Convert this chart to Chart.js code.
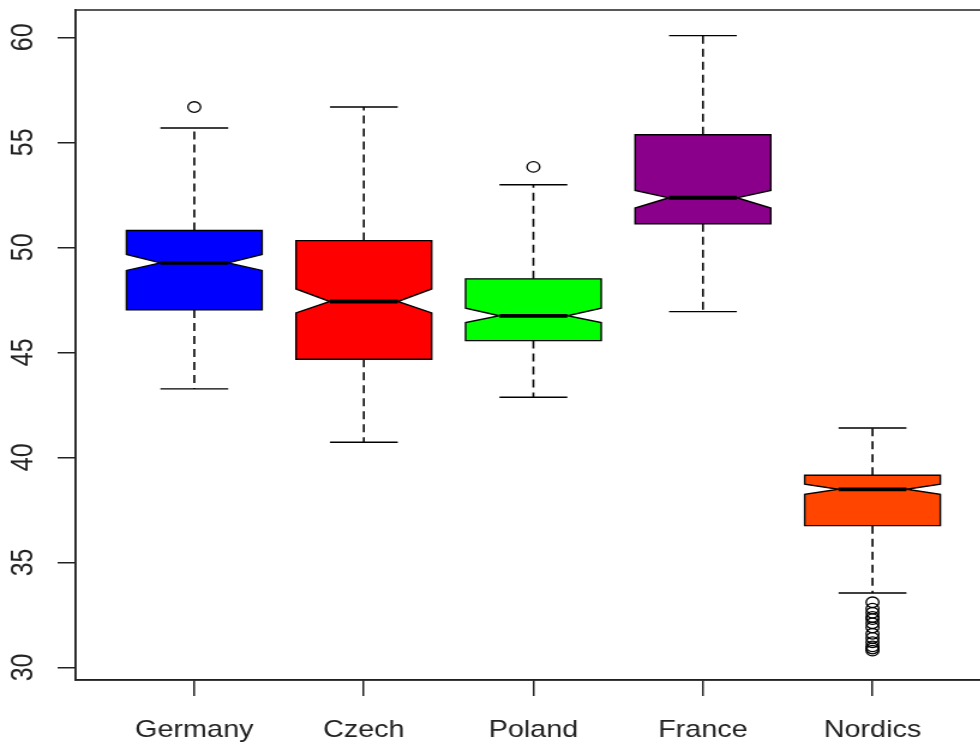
<!DOCTYPE html>
<html>
<head>
<meta charset="utf-8">
<script src="https://cdn.jsdelivr.net/npm/chart.js@4.4.1/dist/chart.umd.min.js"></script>
<style>
  html, body { margin: 0; padding: 0; background: #fff; overflow: hidden; }
  /* reference picture is stretched ~1.2x horizontally */
  #wrap { width: 834px; height: 746px; transform: scaleX(1.2); transform-origin: 0 0; }
</style>
</head>
<body>
<div id="wrap"><canvas id="boxChart" width="834" height="746"></canvas></div>
<script>
const categories = ['Germany', 'Czech', 'Poland', 'France', 'Nordics']
const boxColors = ['#0000ff', '#ff0000', '#00ff00', '#8b008b', '#ff4500']
const whiskerLow = [43.26, 40.72, 42.86, 46.94, 33.54]
const q1 = [47.02, 44.67, 45.56, 51.12, 36.75]
const notchLow = [48.90, 46.88, 46.42, 51.87, 38.24]
const median = [49.26, 47.42, 46.74, 52.36, 38.48]
const notchHigh = [49.66, 48.02, 47.10, 52.71, 38.72]
const q3 = [50.80, 50.32, 48.50, 55.36, 39.15]
const whiskerHigh = [55.68, 56.68, 52.98, 60.08, 41.40]
const outliers = [
    [56.68],
    [],
    [53.83],
    [],
    [33.1, 32.8, 32.6, 32.4, 32.3, 32.1, 31.9, 31.6, 31.4, 31.2, 31.0, 30.9, 30.8]
]
const yTicks = [30, 35, 40, 45, 50, 55, 60]

const axisColor = '#222'
const fontFamily = '"Liberation Sans", Arial, sans-serif'

const outlierPoints = []
outliers.forEach((vals, i) => vals.forEach(v => outlierPoints.push({x: i + 1, y: v})))

// notched boxes, whiskers and the frame, positioned via the chart scales
const notchBoxPlugin = {
    id: 'notchBox',
    beforeDatasetsDraw(chart) {
        const ctx = chart.ctx
        const xs = chart.scales.x
        const ys = chart.scales.y
        categories.forEach((c, i) => {
            const cx = xs.getPixelForValue(i + 1)
            const hw = xs.getPixelForValue(i + 1.4) - cx
            const yQ1 = ys.getPixelForValue(q1[i])
            const yQ3 = ys.getPixelForValue(q3[i])
            const yMed = ys.getPixelForValue(median[i])
            const yNL = ys.getPixelForValue(notchLow[i])
            const yNH = ys.getPixelForValue(notchHigh[i])
            const yWL = ys.getPixelForValue(whiskerLow[i])
            const yWH = ys.getPixelForValue(whiskerHigh[i])

            ctx.save()
            // whiskers
            ctx.strokeStyle = '#000'
            ctx.lineWidth = 1.6
            ctx.setLineDash([8, 5])
            ctx.beginPath()
            ctx.moveTo(cx, yQ3); ctx.lineTo(cx, yWH)
            ctx.moveTo(cx, yQ1); ctx.lineTo(cx, yWL)
            ctx.stroke()
            ctx.setLineDash([])
            ctx.lineWidth = 1.4
            ctx.beginPath()
            ctx.moveTo(cx - hw / 2, yWH); ctx.lineTo(cx + hw / 2, yWH)
            ctx.moveTo(cx - hw / 2, yWL); ctx.lineTo(cx + hw / 2, yWL)
            ctx.stroke()

            // notched box
            ctx.beginPath()
            ctx.moveTo(cx - hw, yQ3)
            ctx.lineTo(cx + hw, yQ3)
            ctx.lineTo(cx + hw, yNH)
            ctx.lineTo(cx + hw / 2, yMed)
            ctx.lineTo(cx + hw, yNL)
            ctx.lineTo(cx + hw, yQ1)
            ctx.lineTo(cx - hw, yQ1)
            ctx.lineTo(cx - hw, yNL)
            ctx.lineTo(cx - hw / 2, yMed)
            ctx.lineTo(cx - hw, yNH)
            ctx.closePath()
            ctx.fillStyle = boxColors[i]
            ctx.fill()
            ctx.lineWidth = 1.4
            ctx.stroke()

            // median
            ctx.lineWidth = 3.8
            ctx.beginPath()
            ctx.moveTo(cx - hw / 2, yMed); ctx.lineTo(cx + hw / 2, yMed)
            ctx.stroke()
            ctx.restore()
        })
    },
    afterDraw(chart) {
        const a = chart.chartArea
        const ctx = chart.ctx
        ctx.save()
        ctx.strokeStyle = axisColor
        ctx.lineWidth = 1.5
        ctx.strokeRect(a.left, a.top, a.right - a.left, a.bottom - a.top)
        ctx.restore()
    }
}

const boxctx = document.getElementById('boxChart').getContext('2d')
const boxChart = new Chart(boxctx, {
    type: 'scatter',
    data: {
        datasets: [{
            data: outlierPoints,
            pointStyle: 'circle',
            pointRadius: 5.3,
            borderColor: '#000',
            borderWidth: 1.3,
            backgroundColor: 'rgba(0,0,0,0)'
        }]
    },
    options: {
        responsive: false,
        animation: false,
        events: [],
        layout: {padding: {top: 10, right: 8, left: 0, bottom: 0}},
        plugins: {
            legend: {display: false},
            tooltip: {enabled: false}
        },
        scales: {
            x: {
                type: 'linear',
                min: 0.3,
                max: 5.7,
                afterBuildTicks: s => { s.ticks = categories.map((c, i) => ({value: i + 1})) },
                afterFit: s => { s.height = 66; s.paddingLeft = 0; s.paddingRight = 0 },
                ticks: {
                    callback: (v, idx) => categories[idx],
                    autoSkip: false,
                    maxRotation: 0,
                    padding: 20,
                    color: axisColor,
                    font: {family: fontFamily, size: 24}
                },
                grid: {drawOnChartArea: false, drawTicks: true, tickLength: 16, color: axisColor, lineWidth: 1.5},
                border: {display: true, color: axisColor, width: 1.5}
            },
            y: {
                type: 'linear',
                min: 29.4,
                max: 61.3,
                afterBuildTicks: s => { s.ticks = yTicks.map(v => ({value: v})) },
                afterFit: s => { s.width = 63; s.paddingTop = 0; s.paddingBottom = 0 },
                ticks: {
                    minRotation: 90,
                    maxRotation: 90,
                    crossAlign: 'center',
                    padding: 14,
                    color: axisColor,
                    font: {family: fontFamily, size: 25}
                },
                grid: {drawOnChartArea: false, drawTicks: true, tickLength: 15, color: axisColor, lineWidth: 1.5},
                border: {display: true, color: axisColor, width: 1.5}
            }
        }
    },
    plugins: [notchBoxPlugin]
})
</script>
</body>
</html>
